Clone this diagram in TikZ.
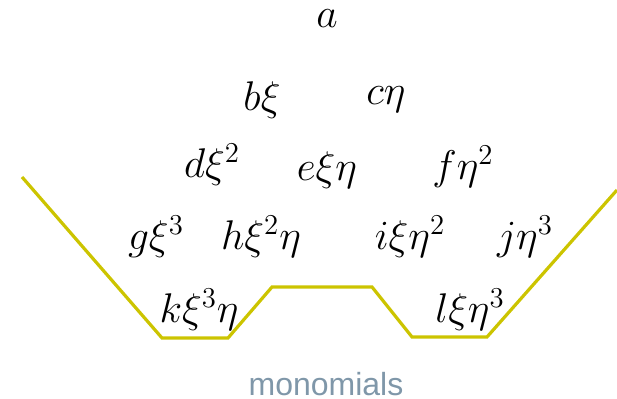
\documentclass[tikz,border=0pt]{standalone}
\usepackage{fontspec}
\setsansfont{Liberation Sans}
\usetikzlibrary{positioning}
\definecolor{mnYellow}{HTML}{CCC400}
\definecolor{mnGray}{HTML}{7F97A9}

\begin{document}
\begin{tikzpicture}[x=0.5pt, y=-0.5pt,
  mono/.style={inner sep=0pt, font=\fontsize{21}{25}\selectfont},
  lbl/.style={inner sep=0pt, text=mnGray, font=\sffamily\fontsize{16}{19}\selectfont},
  cut/.style={draw=mnYellow, line width=1.6pt, line join=miter}]
  \useasboundingbox (0,0) rectangle (617,399);
  % row 0
  \node[mono] (a) at (327,19) {$a$};
  % row 1
  \node[mono] (b) at (262,100) {$b\xi$};
  \node[mono] (c) at (386,100) {$c\eta$};
  % row 2
  \node[mono] (d) at (212,165) {$d\xi^2$};
  \node[mono] (e) at (327,170) {$e\xi\eta$};
  \node[mono] (f) at (463,167) {$f\eta^2$};
  % row 3
  \node[mono] (g) at (156,237) {$g\xi^3$};
  \node[mono] (h) at (261,237) {$h\xi^2\eta$};
  \node[mono] (i) at (410,237) {$i\xi\eta^2$};
  \node[mono] (j) at (525,237) {$j\eta^3$};
  % row 4
  \node[mono] (k) at (199,310) {$k\xi^3\eta$};
  \node[mono] (l) at (470,310) {$l\xi\eta^3$};
  % cut line
  \draw[cut] (22,177) -- (162,338) -- (228,338) -- (272,287) -- (372,287)
    -- (412,337) -- (487,337) -- (617,190);
  \node[lbl] (lab) at (326,384) {monomials};
\end{tikzpicture}
\end{document}
